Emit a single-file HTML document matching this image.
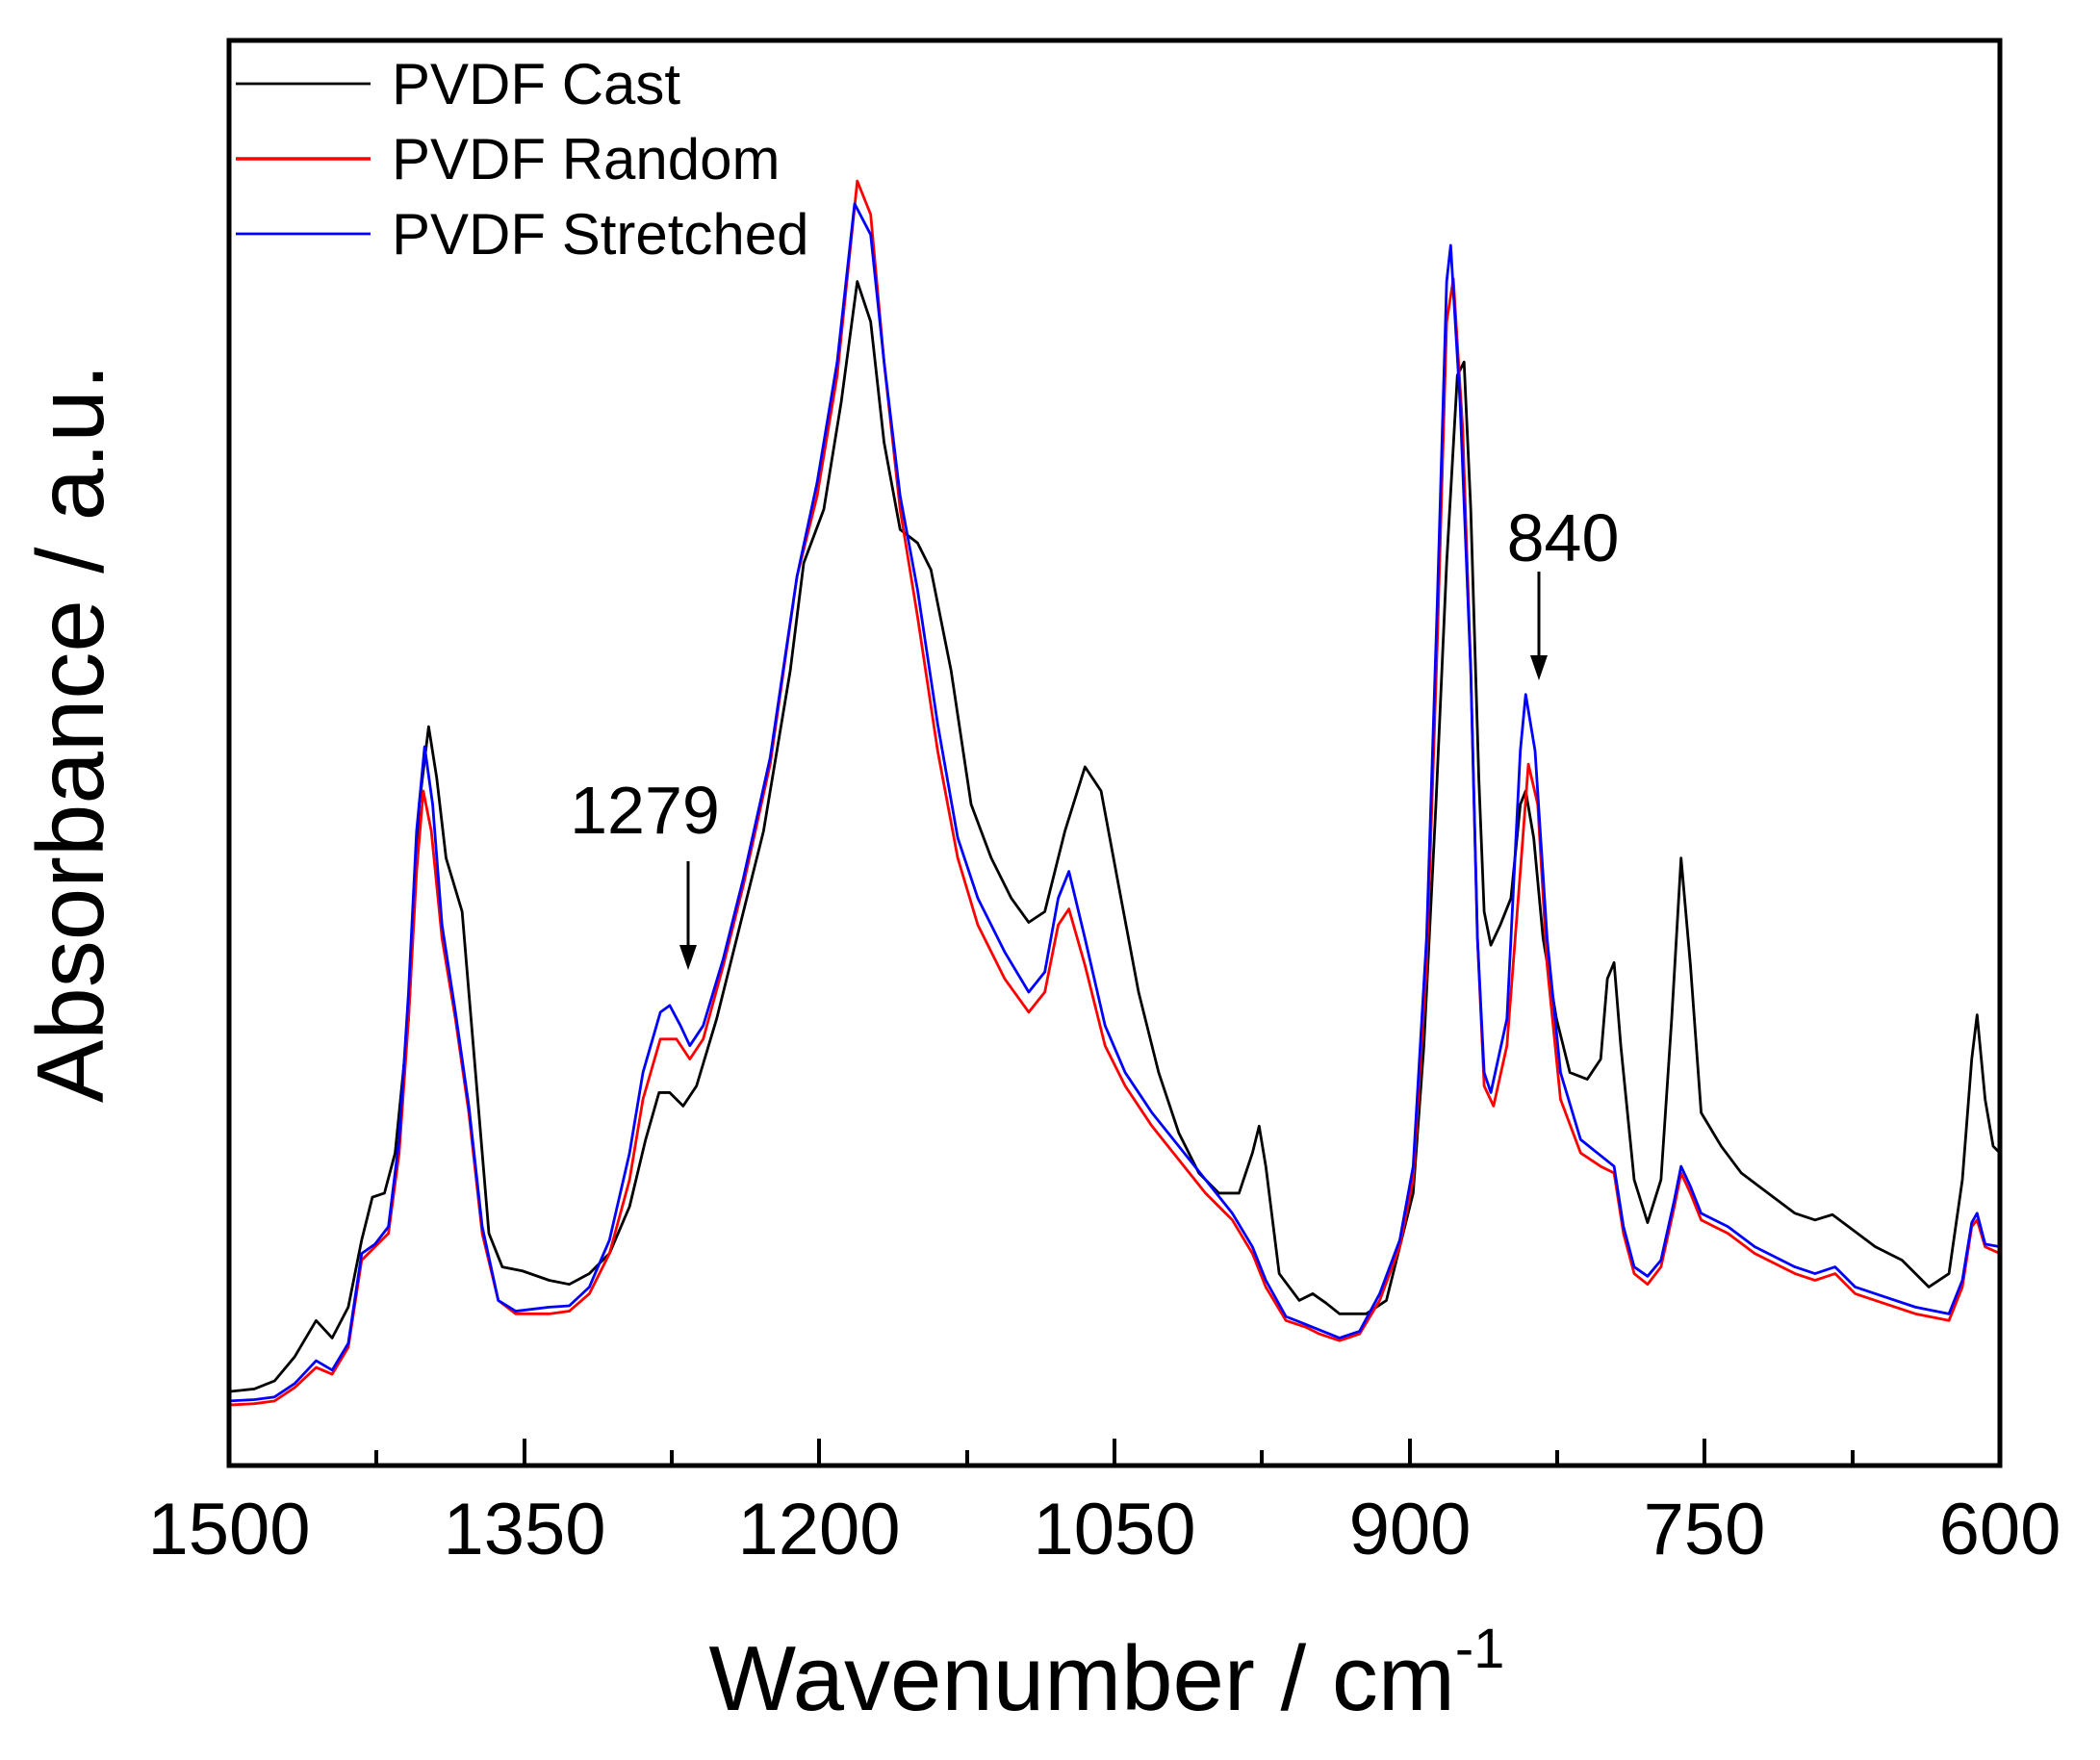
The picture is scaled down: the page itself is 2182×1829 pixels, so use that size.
<!DOCTYPE html>
<html><head><meta charset="utf-8"><style>
html,body{margin:0;padding:0;background:#fff;}
svg{display:block;}
text{font-family:"Liberation Sans",Arial,sans-serif;fill:#000;}
</style></head><body>
<svg width="2182" height="1829" viewBox="0 0 2182 1829" xmlns="http://www.w3.org/2000/svg">
<rect width="2182" height="1829" fill="#fff"/>
<g transform="scale(1.3918,1.3932)" fill="none" stroke-linejoin="round">
<polyline vector-effect="non-scaling-stroke" stroke="#000" stroke-width="2.8" points="171,1038 190,1036 205,1030 220,1012 236,985 248,998 260,975 270,925 278,893 287,890 295,860 305,760 313,600 320,542 326,580 333,640 345,680 355,800 365,920 375,945 390,948 410,955 425,958 440,950 455,935 470,900 482,850 492,815 500,815 510,825 520,810 535,760 550,700 570,620 590,500 600,420 615,380 628,300 640,210 650,240 660,330 672,395 685,405 695,425 710,500 725,600 740,640 755,670 768,688 780,680 795,620 810,572 822,590 835,660 850,740 865,800 880,845 895,875 910,890 925,890 935,860 940,840 945,870 955,950 970,970 980,965 990,972 1000,980 1020,980 1035,970 1045,930 1055,890 1063,780 1072,600 1080,420 1088,280 1093,270 1098,380 1104,580 1108,680 1113,705 1120,690 1128,670 1135,600 1139,590 1145,625 1152,700 1162,760 1172,800 1185,805 1195,790 1200,730 1205,718 1210,780 1220,880 1230,912 1240,880 1248,760 1255,640 1262,720 1270,830 1285,855 1300,875 1320,890 1340,905 1355,910 1368,906 1380,915 1400,930 1420,940 1440,960 1455,950 1465,880 1472,790 1476,757 1482,820 1488,855 1493,860"/>
<polyline vector-effect="non-scaling-stroke" stroke="#ff0000" stroke-width="2.8" points="171,1048 190,1047 205,1045 220,1035 236,1020 248,1025 260,1005 270,940 280,930 290,920 298,860 305,760 311,650 316,590 322,620 330,700 340,760 350,830 360,920 372,970 385,980 410,980 425,978 440,965 455,935 470,880 480,820 493,775 505,775 515,790 525,775 540,720 555,660 575,570 595,430 610,370 625,280 640,135 650,160 660,270 672,380 685,460 700,560 715,640 730,690 750,730 768,755 780,740 790,690 798,678 810,720 825,780 840,810 860,840 880,865 900,890 920,910 935,935 945,960 960,985 975,990 985,995 1000,1000 1015,995 1030,970 1045,930 1055,880 1065,720 1073,480 1080,240 1085,208 1092,320 1098,500 1103,700 1108,810 1115,825 1125,780 1135,650 1141,570 1148,600 1155,720 1165,820 1180,860 1195,870 1205,875 1212,920 1220,950 1230,958 1240,945 1250,900 1255,875 1262,890 1270,910 1290,920 1310,935 1340,950 1355,955 1370,950 1385,965 1400,970 1430,980 1455,985 1465,960 1472,915 1476,910 1482,930 1493,935"/>
<polyline vector-effect="non-scaling-stroke" stroke="#0000ff" stroke-width="2.8" points="171,1045 190,1044 205,1042 220,1032 236,1015 248,1022 260,1002 270,935 280,928 290,915 298,850 305,740 311,620 317,557 323,600 330,690 340,755 350,825 360,915 372,970 385,978 410,975 425,974 440,960 455,925 470,860 480,800 493,755 500,750 508,765 515,780 525,765 540,715 555,655 575,565 595,430 610,360 625,270 638,152 650,175 660,270 672,370 685,440 700,540 715,625 730,670 750,710 768,740 780,725 790,670 798,650 810,700 825,765 840,800 860,830 880,855 900,880 920,905 935,930 945,955 960,982 975,988 985,992 1000,998 1015,993 1030,965 1045,925 1055,870 1065,700 1073,450 1080,210 1083,183 1090,300 1098,500 1103,700 1108,800 1113,815 1125,760 1135,560 1139,518 1146,560 1155,700 1165,800 1180,850 1195,862 1205,870 1212,915 1220,945 1230,952 1240,940 1250,895 1255,870 1262,885 1270,905 1290,915 1310,930 1340,945 1355,950 1370,945 1385,960 1400,965 1430,975 1455,980 1465,955 1472,912 1476,905 1482,928 1493,930"/>
</g>
<rect x="238" y="42" width="1840" height="1481" fill="none" stroke="#000" stroke-width="5"/>
<g stroke="#000" stroke-width="4">
<line x1="238" y1="1523" x2="238" y2="1495"/><line x1="391" y1="1523" x2="391" y2="1507"/>
<line x1="545" y1="1523" x2="545" y2="1495"/><line x1="698" y1="1523" x2="698" y2="1507"/>
<line x1="851" y1="1523" x2="851" y2="1495"/><line x1="1005" y1="1523" x2="1005" y2="1507"/>
<line x1="1158" y1="1523" x2="1158" y2="1495"/><line x1="1311" y1="1523" x2="1311" y2="1507"/>
<line x1="1465" y1="1523" x2="1465" y2="1495"/><line x1="1618" y1="1523" x2="1618" y2="1507"/>
<line x1="1771" y1="1523" x2="1771" y2="1495"/><line x1="1925" y1="1523" x2="1925" y2="1507"/>
<line x1="2078" y1="1523" x2="2078" y2="1495"/>
</g>
<g font-size="76" text-anchor="middle">
<text x="238" y="1615">1500</text><text x="545" y="1615">1350</text>
<text x="851" y="1615">1200</text><text x="1158" y="1615">1050</text>
<text x="1465" y="1615">900</text><text x="1771" y="1615">750</text>
<text x="2078" y="1615">600</text>
</g>
<text x="1150" y="1777" font-size="96" text-anchor="middle">Wavenumber / cm<tspan font-size="58" dy="-44">-1</tspan></text>
<text transform="translate(107,762) rotate(-90)" font-size="98" text-anchor="middle">Absorbance / a.u.</text>
<line x1="245" y1="87" x2="385" y2="87" stroke="#000" stroke-width="2.8"/>
<line x1="245" y1="165" x2="385" y2="165" stroke="#ff0000" stroke-width="3.5"/>
<line x1="245" y1="243" x2="385" y2="243" stroke="#0000ff" stroke-width="2.8"/>
<g font-size="60"><text x="407" y="108">PVDF Cast</text><text x="407" y="186">PVDF Random</text><text x="407" y="264">PVDF Stretched</text></g>
<text x="670" y="866" font-size="70" text-anchor="middle">1279</text>
<line x1="715" y1="895" x2="715" y2="985" stroke="#000" stroke-width="3"/>
<polygon points="706,982 724,982 715,1008" fill="#000"/>
<text x="1624" y="583" font-size="70" text-anchor="middle">840</text>
<line x1="1599" y1="594" x2="1599" y2="684" stroke="#000" stroke-width="3"/>
<polygon points="1590,681 1608,681 1599,707" fill="#000"/>
</svg>
</body></html>
